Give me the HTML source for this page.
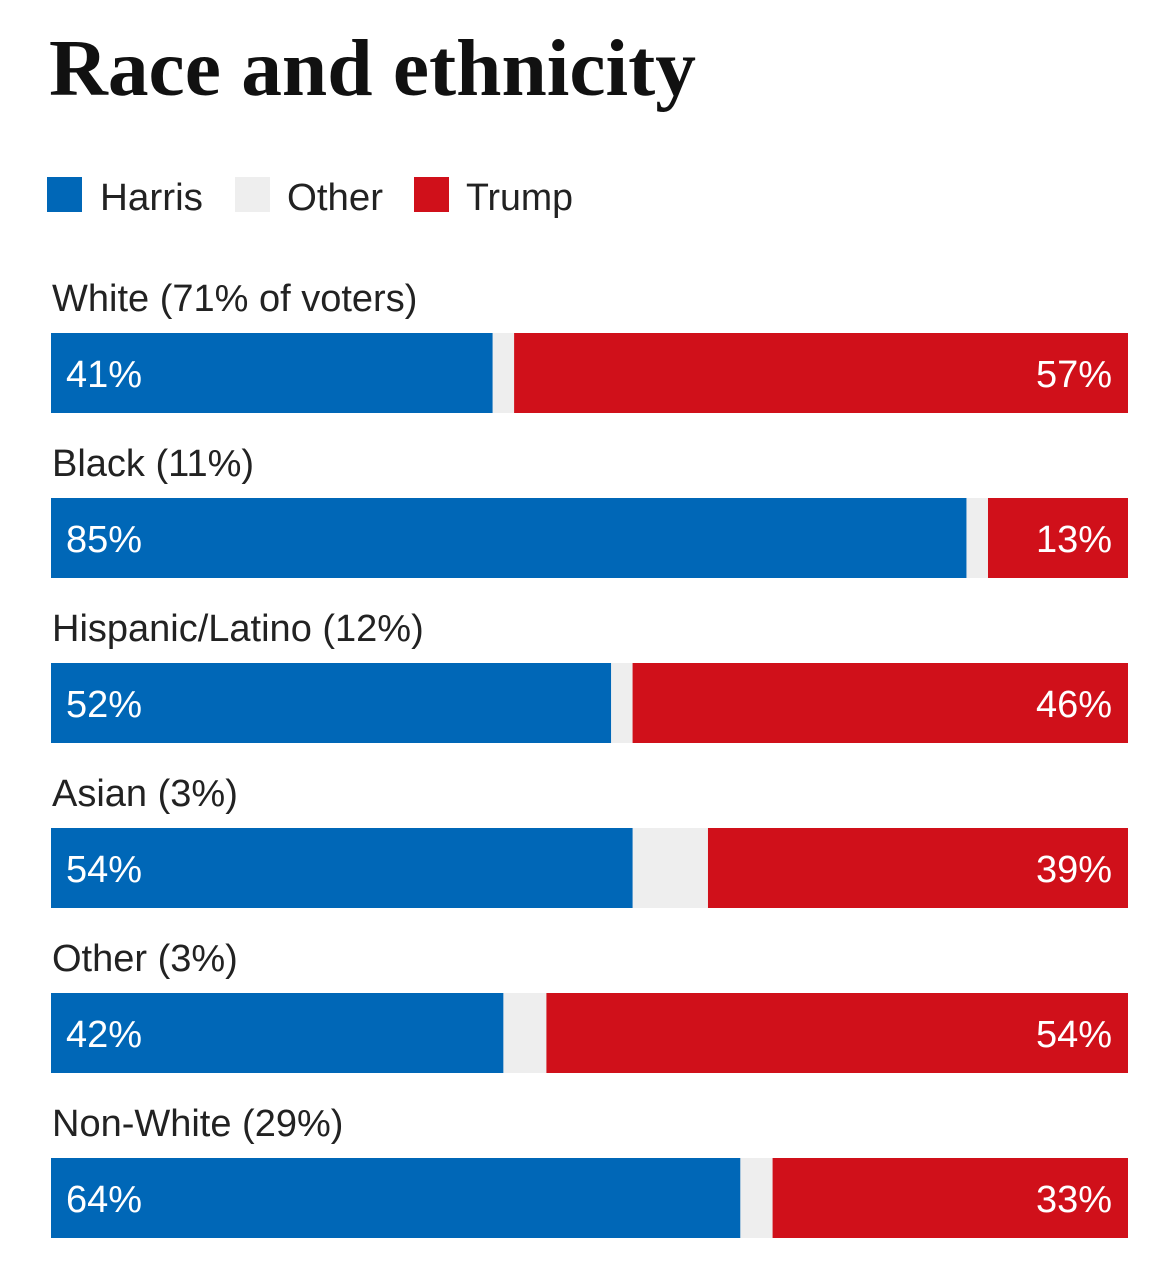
<!DOCTYPE html>
<html><head><meta charset="utf-8"><style>
body{margin:0;background:#fff;width:1160px;height:1278px;overflow:hidden}
svg{display:block}
.lbl{font-family:"Liberation Sans",sans-serif;font-size:38px;fill:#222}
.val{font-family:"Liberation Sans",sans-serif;font-size:38px;fill:#fff}
</style></head><body>
<svg id="chart" width="1160" height="1278">
<text x="49" y="95" font-family="Liberation Serif,serif" font-weight="bold" font-size="80" fill="#111" textLength="647" lengthAdjust="spacingAndGlyphs">Race and ethnicity</text>
<g>
<rect x="47" y="177" width="35" height="35" fill="#0067b7"/>
<text x="100" y="210" class="lbl" textLength="103" lengthAdjust="spacingAndGlyphs">Harris</text>
<rect x="235" y="177" width="35" height="35" fill="#eeeeee"/>
<text x="287" y="210" class="lbl" textLength="96" lengthAdjust="spacingAndGlyphs">Other</text>
<rect x="414" y="177" width="35" height="35" fill="#d0101a"/>
<text x="466" y="210" class="lbl" textLength="107" lengthAdjust="spacingAndGlyphs">Trump</text>
</g>
<g id="bars"></g>
</svg>
<script>
const categories=["White (71% of voters)","Black (11%)","Hispanic/Latino (12%)","Asian (3%)","Other (3%)","Non-White (29%)"];
const harris=[41,85,52,54,42,64];
const trump=[57,13,46,39,54,33];
const x0=51,x1=1128,top0=333,pitch=165,bh=80;
const sx=v=>v*(x1-x0)/100;
const ns="http://www.w3.org/2000/svg";
const g=document.getElementById('bars');
function mk(tag,attrs){const e=document.createElementNS(ns,tag);for(const k in attrs)e.setAttribute(k,attrs[k]);return e;}
categories.forEach((c,i)=>{
 const y=top0+i*pitch;
 const l=mk('text',{x:52,y:y-22,class:'lbl'});l.textContent=c;
 
 
 g.appendChild(l);
 const o=mk('rect',{x:x0,y:y,width:x1-x0,height:bh,fill:'#eeeeee'});
 
 
 g.appendChild(o);
 const b=mk('rect',{x:x0,y:y,width:sx(harris[i]),height:bh,fill:'#0067b7'});
 
 
 g.appendChild(b);
 const r=mk('rect',{x:x1-sx(trump[i]),y:y,width:sx(trump[i]),height:bh,fill:'#d0101a'});
 
 
 g.appendChild(r);
 const hv=mk('text',{x:66,y:y+54,class:'val'});hv.textContent=harris[i]+'%';
 
 
 g.appendChild(hv);
 const tv=mk('text',{x:1112,y:y+54,class:'val','text-anchor':'end'});tv.textContent=trump[i]+'%';
 
 
 g.appendChild(tv);
});
</script>
</body></html>
